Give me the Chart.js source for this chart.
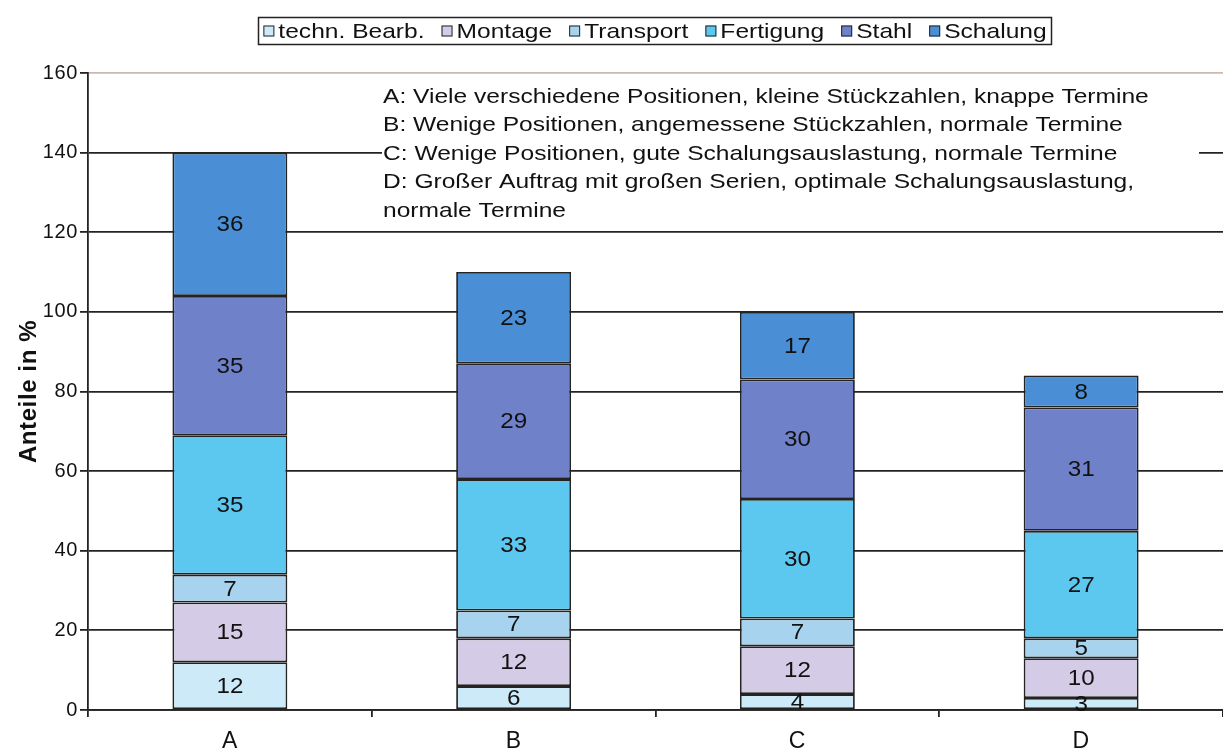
<!DOCTYPE html>
<html>
<head>
<meta charset="utf-8">
<script src="https://cdn.jsdelivr.net/npm/chart.js@4.4.1/dist/chart.umd.min.js"></script>
<style>
  html, body { margin: 0; padding: 0; background: #fff; }
  #wrap { width: 1223px; height: 755px; position: relative; }
</style>
</head>
<body>
<div id="wrap"><canvas id="chart"></canvas></div>
<script>
// ---- Data ----
const categories  = ['A', 'B', 'C', 'D'];
const technBearb  = [12, 6, 4, 3];
const montage     = [15, 12, 12, 10];
const transport   = [7, 7, 7, 5];
const fertigung   = [35, 33, 30, 27];
const stahl       = [35, 29, 30, 31];
const schalung    = [36, 23, 17, 8];
const yMax = 160;
const yStep = 20;
const notes = [
  'A: Viele verschiedene Positionen, kleine Stückzahlen, knappe Termine',
  'B: Wenige Positionen, angemessene Stückzahlen, normale Termine',
  'C: Wenige Positionen, gute Schalungsauslastung, normale Termine',
  'D: Großer Auftrag mit großen Serien, optimale Schalungsauslastung,',
  'normale Termine'
];

const FONT = '"Liberation Sans", Arial, sans-serif';
const INK = '#252322';
const STRETCH = 1.17; // the original lettering is drawn wide

const series = [
  { label: 'techn. Bearb.', data: technBearb, color: '#cdeaf8' },
  { label: 'Montage',       data: montage,    color: '#d4cce6' },
  { label: 'Transport',     data: transport,  color: '#a7d3ef' },
  { label: 'Fertigung',     data: fertigung,  color: '#5dc8ef' },
  { label: 'Stahl',         data: stahl,      color: '#6f81c9' },
  { label: 'Schalung',      data: schalung,   color: '#4a8fd5' },
];

function wideText(ctx, text, x, y, sx) {
  ctx.save();
  ctx.translate(x, y);
  ctx.scale(sx, 1);
  ctx.fillText(text, 0, 0);
  ctx.restore();
}

// ---- Slightly wider axis lettering ----
const axisSpacing = {
  id: 'axisSpacing',
  beforeDraw(chart) { chart.ctx.letterSpacing = '0.6px'; },
  afterDraw(chart) { chart.ctx.letterSpacing = '0px'; },
};

// ---- Legend in a frame (drawn above the plot) ----
const framedLegend = {
  id: 'framedLegend',
  afterDraw(chart) {
    const ctx = chart.ctx;
    const items = chart.data.datasets;
    const box = 11, gap = 4, spacing = 17, pad = 5;
    ctx.save();
    ctx.letterSpacing = '0px';
    ctx.font = '21px ' + FONT;
    const widths = items.map(d => box + gap + ctx.measureText(d.label).width * STRETCH);
    const total = widths.reduce((a, b) => a + b, 0) + spacing * (items.length - 1);
    const cx = 655, cy = 31;
    let x = cx - total / 2;
    ctx.strokeStyle = INK;
    ctx.lineWidth = 1.5;
    ctx.strokeRect(Math.round(x - pad) + 0.5, 17.5, Math.round(total + pad * 2), 27);
    ctx.textBaseline = 'middle';
    items.forEach((d, i) => {
      ctx.fillStyle = d.backgroundColor;
      ctx.fillRect(x, cy - box / 2, box, box);
      ctx.lineWidth = 1;
      ctx.strokeRect(x + 0.5, cy - box / 2 + 0.5, box - 1, box - 1);
      ctx.fillStyle = '#111';
      wideText(ctx, d.label, x + box + gap, cy + 1, STRETCH);
      x += widths[i] + spacing;
    });
    ctx.restore();
  }
};

// ---- Explanation box over the grid ----
const notesBox = {
  id: 'notesBox',
  beforeDatasetsDraw(chart) {
    const ctx = chart.ctx;
    ctx.save();
    ctx.letterSpacing = '0px';
    ctx.fillStyle = '#fff';
    ctx.fillRect(382, 80, 817, 146);
    ctx.font = '21px ' + FONT;
    ctx.fillStyle = '#111';
    ctx.textBaseline = 'middle';
    notes.forEach((t, i) => wideText(ctx, t, 383, 97 + i * 28.5, STRETCH));
    ctx.restore();
  }
};

// ---- Values inside the segments ----
const segmentValues = {
  id: 'segmentValues',
  afterDatasetsDraw(chart) {
    const ctx = chart.ctx;
    ctx.save();
    ctx.letterSpacing = '0px';
    ctx.font = '22px ' + FONT;
    ctx.fillStyle = '#111';
    ctx.textAlign = 'center';
    ctx.textBaseline = 'middle';
    chart.data.datasets.forEach((ds, i) => {
      chart.getDatasetMeta(i).data.forEach((bar, j) => {
        const mid = (bar.y + bar.base) / 2;
        wideText(ctx, String(ds.data[j]), bar.x, mid + 1, 1.1);
      });
    });
    ctx.restore();
  }
};

new Chart(document.getElementById('chart'), {
  type: 'bar',
  data: {
    labels: categories,
    datasets: series.map(s => ({
      label: s.label,
      data: s.data,
      backgroundColor: s.color,
      borderColor: INK,
      borderWidth: 1.8,
      borderSkipped: false,
      barPercentage: 0.405,
      categoryPercentage: 1,
    })),
  },
  options: {
    responsive: true,
    maintainAspectRatio: false,
    animation: false,
    layout: { padding: { top: 73, left: 0, right: 0, bottom: 0 } },
    plugins: {
      legend: { display: false },
      tooltip: { enabled: false },
    },
    scales: {
      x: {
        stacked: true,
        afterFit: s => { s.height = 45; },
        grid: { display: true, drawOnChartArea: false, offset: true, tickLength: 7, color: INK, lineWidth: 1.8 },
        border: { color: INK, width: 1.8 },
        ticks: { padding: 11, color: '#111', font: { family: FONT, size: 23 } },
      },
      y: {
        stacked: true,
        min: 0,
        max: yMax,
        afterFit: s => { s.width = 88; },
        title: {
          display: true,
          text: 'Anteile in %',
          color: '#111',
          padding: { top: 15, bottom: 0 },
          font: { family: FONT, size: 24, weight: 'bold' },
        },
        grid: {
          color: c => (c.tick && c.tick.value === yMax ? '#cbb9b0' : INK),
          tickColor: INK,
          lineWidth: 1.8,
          tickLength: 8,
        },
        border: { color: INK, width: 1.8 },
        ticks: { stepSize: yStep, padding: 2, color: '#111', font: { family: FONT, size: 20 } },
      },
    },
  },
  plugins: [axisSpacing, notesBox, segmentValues, framedLegend],
});
</script>
</body>
</html>
